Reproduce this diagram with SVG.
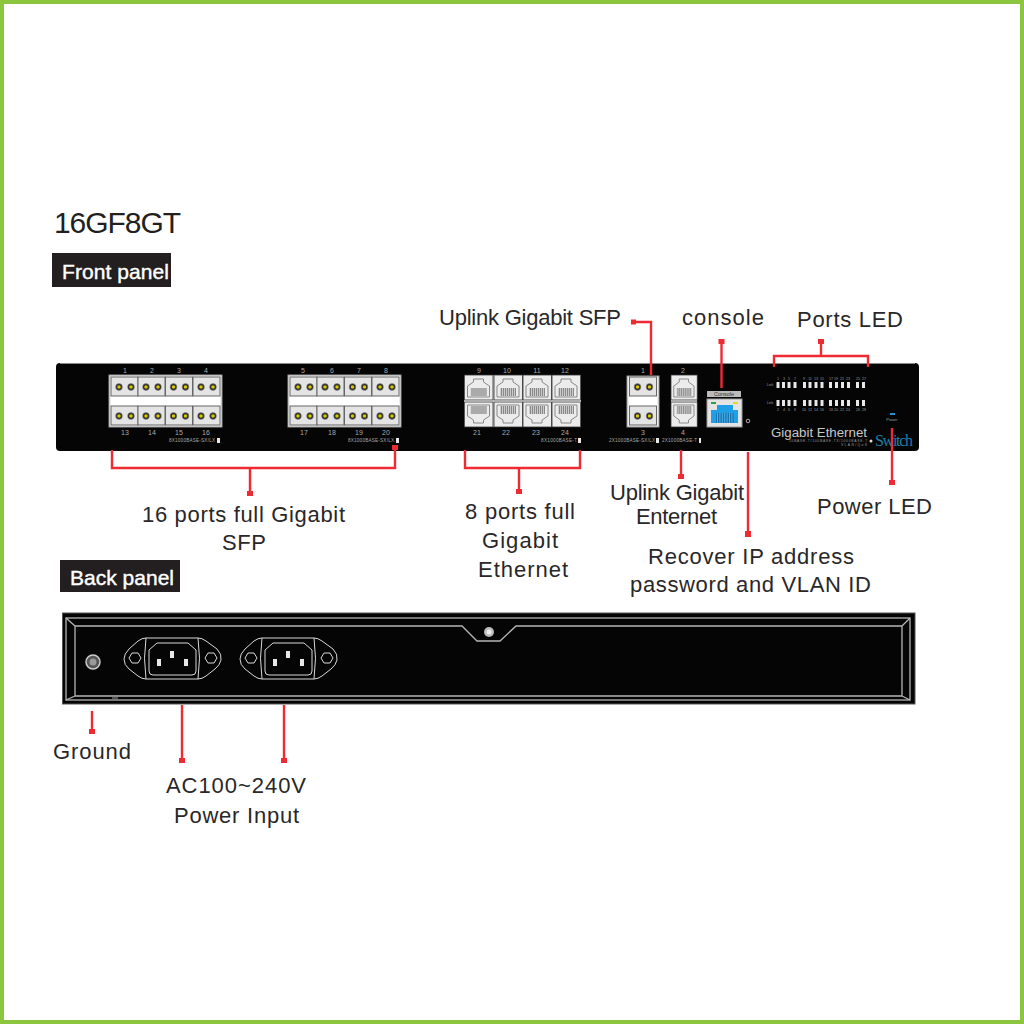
<svg xmlns="http://www.w3.org/2000/svg" width="1024" height="1024" viewBox="0 0 1024 1024">
<style>
text{font-family:"Liberation Sans",Arial,sans-serif}
.lbl{font-size:22px;fill:#2a2728;text-anchor:middle}
.n{font-size:7px;fill:#a8a8a8;text-anchor:middle}
.t{font-size:4.6px;fill:#a8a8a8}
.led{font-size:3.6px;fill:#9a9a9a;text-anchor:middle}
.wire{fill:none;stroke:#ee2a33;stroke-width:2.400}
.end{fill:#ee2a33}
.cell{fill:#e4e4e4;stroke:#666;stroke-width:1}
.frame{fill:#eee;stroke:#999;stroke-width:1}
.rj{fill:#ececec;stroke:#888;stroke-width:1}
.back{fill:none;stroke:#b5b5b5;stroke-width:1.300}
.inlet{fill:none;stroke:#d8d8d8;stroke-width:1}
.bar{fill:#e8e8e8}
</style>
<defs>
<g id="duplex"><rect class="cell" width="27" height="19"/><circle cx="8" cy="10" r="3.400" fill="#222" stroke="#999" stroke-width=".6"/><circle cx="8" cy="10" r="1.800" fill="#d8c800"/><circle cx="20" cy="10" r="3.400" fill="#222" stroke="#999" stroke-width=".6"/><circle cx="20" cy="10" r="1.800" fill="#d8c800"/></g>
<g id="rj45"><rect width="28.500" height="25" fill="#ececec" stroke="#333" stroke-width=".8"/><path class="rj" d="M3 22V11L9 7V4H19V7L25 11V22Z"/><rect x="6" y="13" width="16" height="8" fill="#ccc"/><path d="M7 17H22" stroke="#888" stroke-width="8" stroke-dasharray="1 1"/></g>
<g id="inlet" class="inlet">
<path d="M22 0H74Q78 0 82 3L93 11Q98 16 97 22Q96 27 91 31L82 38Q78 41 74 41H22Q18 41 14 38L5 31Q0 27 0 21Q0 16 5 11L14 3Q18 0 22 0Z"/>
<path d="M22 0Q19 20 22 41M74 0Q77 20 74 41"/>
<path d="M33 5H64L72 12V33Q72 37 68 37H29Q25 37 25 33V12Z"/>
<path d="M5 20L8 15H14L17 20L14 25H8Z M81 20L84 15H90L93 20L90 25H84Z"/>
<rect x="33" y="21" width="4" height="7" fill="#e8e8e8" stroke="none"/><rect x="46" y="13" width="4" height="7" fill="#e8e8e8" stroke="none"/><rect x="60" y="21" width="4" height="7" fill="#e8e8e8" stroke="none"/>
</g>
</defs>
<rect width="1024" height="1024" fill="#fff"/>
<rect x="2" y="2" width="1020" height="1020" fill="none" stroke="#8cc63f" stroke-width="4"/>

<g id="title"><text x="54" y="233" font-size="30" fill="#231f20" textLength="127">16GF8GT</text></g>
<g id="front-tag"><rect x="52" y="253" width="119" height="34" fill="#231f20"/><text x="62" y="279" font-size="21" fill="#fff" stroke="#fff" stroke-width=".4" textLength="107">Front panel</text></g>
<g id="back-tag"><rect x="60" y="560" width="120" height="32" fill="#231f20"/><text x="70" y="585" font-size="21" fill="#fff" stroke="#fff" stroke-width=".4" textLength="104">Back panel</text></g>

<g id="front-panel">
<rect x="56" y="363" width="863" height="88" rx="4" fill="#050505"/>
<path d="M60 363.500H915" stroke="#888" stroke-width="1"/>
</g>

<g id="sfp-block-1">
<rect class="frame" x="109" y="375" width="113" height="52"/><rect x="111" y="396" width="109" height="10" fill="#fff"/>
<use href="#duplex" x="111" y="377"/><use href="#duplex" x="138" y="377"/><use href="#duplex" x="165.500" y="377"/><use href="#duplex" x="193" y="377"/>
<use href="#duplex" x="111" y="406"/><use href="#duplex" x="138" y="406"/><use href="#duplex" x="165.500" y="406"/><use href="#duplex" x="193" y="406"/>
<text class="n" x="125" y="373">1</text><text class="n" x="152" y="373">2</text><text class="n" x="179" y="373">3</text><text class="n" x="206" y="373">4</text>
<text class="n" x="125" y="435">13</text><text class="n" x="152" y="435">14</text><text class="n" x="179" y="435">15</text><text class="n" x="206" y="435">16</text>
<text class="t" x="169" y="442" textLength="46">8X1000BASE-SX/LX</text><rect class="bar" x="217" y="438" width="3" height="5"/>
</g>
<g id="sfp-block-2">
<rect class="frame" x="288" y="375" width="113" height="52"/><rect x="290" y="396" width="109" height="10" fill="#fff"/>
<use href="#duplex" x="290" y="377"/><use href="#duplex" x="317" y="377"/><use href="#duplex" x="344.500" y="377"/><use href="#duplex" x="372" y="377"/>
<use href="#duplex" x="290" y="406"/><use href="#duplex" x="317" y="406"/><use href="#duplex" x="344.500" y="406"/><use href="#duplex" x="372" y="406"/>
<text class="n" x="303" y="373">5</text><text class="n" x="332" y="373">6</text><text class="n" x="359" y="373">7</text><text class="n" x="386" y="373">8</text>
<text class="n" x="304" y="435">17</text><text class="n" x="332" y="435">18</text><text class="n" x="359" y="435">19</text><text class="n" x="386" y="435">20</text>
<text class="t" x="348" y="442" textLength="46">8X1000BASE-SX/LX</text><rect class="bar" x="396" y="438" width="3" height="5"/>
</g>
<g id="rj45-block">
<rect x="464" y="375" width="117" height="52" fill="#fff"/>
<use href="#rj45" x="464.500" y="375"/><use href="#rj45" x="494" y="375"/><use href="#rj45" x="523" y="375"/><use href="#rj45" x="552" y="375"/>
<use href="#rj45" transform="translate(464.500 427) scale(1 -1)"/><use href="#rj45" transform="translate(494 427) scale(1 -1)"/><use href="#rj45" transform="translate(523 427) scale(1 -1)"/><use href="#rj45" transform="translate(552 427) scale(1 -1)"/>
<text class="n" x="479" y="373">9</text><text class="n" x="507" y="373">10</text><text class="n" x="537" y="373">11</text><text class="n" x="565" y="373">12</text>
<text class="n" x="477" y="435">21</text><text class="n" x="506" y="435">22</text><text class="n" x="536" y="435">23</text><text class="n" x="565" y="435">24</text>
<text class="t" x="541" y="442" textLength="36">8X1000BASE-T</text><rect class="bar" x="578" y="438" width="3" height="5"/>
</g>
<g id="uplink-sfp">
<rect class="frame" x="627" y="376" width="32" height="51"/><rect x="629" y="396" width="28" height="10" fill="#fff"/>
<use href="#duplex" x="629.500" y="377"/><use href="#duplex" x="629.500" y="406"/>
<text class="n" x="643" y="373">1</text><text class="n" x="643" y="435">3</text>
<text class="t" x="609" y="442" textLength="46">2X1000BASE-SX/LX</text><rect class="bar" x="656" y="438" width="3" height="5"/>
</g>
<g id="uplink-rj45">
<rect x="671" y="375" width="26" height="52" fill="#fff"/>
<use href="#rj45" transform="translate(671 375) scale(.92 1)"/><use href="#rj45" transform="translate(671 427) scale(.92 -1)"/>
<text class="n" x="683" y="373">2</text><text class="n" x="683" y="435">4</text>
<text class="t" x="662" y="442" textLength="35">2X1000BASE-T</text><rect class="bar" x="699" y="438" width="2" height="5"/>
</g>
<g id="console-port">
<rect x="707" y="391" width="34" height="6" fill="#bbb"/><text x="724" y="396" font-size="5.500" fill="#333" text-anchor="middle">Console</text>
<rect x="707" y="399" width="35" height="28" fill="#e4e4e4" stroke="#999" stroke-width="1"/>
<path d="M711 423V410H717V405H733V410H738V423Z" fill="#1f9fe6"/>
<rect x="716" y="413" width="18" height="10" fill="#1673b0"/><path d="M717 418H734" stroke="#49b5ec" stroke-width="10" stroke-dasharray="1 1.400"/>
<rect x="711" y="402" width="5" height="2" fill="#2f9e44"/><rect x="733" y="402" width="5" height="2" fill="#e6d52a"/>
<circle cx="748" cy="421" r="1.800" fill="none" stroke="#aaa" stroke-width="1"/>
</g>
<g id="port-leds">
<g class="bar"><rect x="776.500" y="382" width="3" height="6"/><rect x="782" y="382" width="3" height="6"/><rect x="787.500" y="382" width="3" height="6"/><rect x="793.500" y="382" width="3" height="6"/><rect x="803" y="382" width="3" height="6"/><rect x="808.500" y="382" width="3" height="6"/><rect x="814.500" y="382" width="3" height="6"/><rect x="820.500" y="382" width="3" height="6"/><rect x="829" y="382" width="3" height="6"/><rect x="835" y="382" width="3" height="6"/><rect x="841" y="382" width="3" height="6"/><rect x="847" y="382" width="3" height="6"/><rect x="856" y="382" width="3" height="6"/><rect x="862" y="382" width="3" height="6"/>
<rect x="776.500" y="400" width="3" height="6"/><rect x="782" y="400" width="3" height="6"/><rect x="787.500" y="400" width="3" height="6"/><rect x="793.500" y="400" width="3" height="6"/><rect x="803" y="400" width="3" height="6"/><rect x="808.500" y="400" width="3" height="6"/><rect x="814.500" y="400" width="3" height="6"/><rect x="820.500" y="400" width="3" height="6"/><rect x="829" y="400" width="3" height="6"/><rect x="835" y="400" width="3" height="6"/><rect x="841" y="400" width="3" height="6"/><rect x="847" y="400" width="3" height="6"/><rect x="856" y="400" width="3" height="6"/><rect x="862" y="400" width="3" height="6"/></g>
<text class="led" x="770" y="386">Link</text><text class="led" x="770" y="404">Link</text>
<text class="led" x="778" y="380">1</text><text class="led" x="784" y="380">3</text><text class="led" x="789" y="380">5</text><text class="led" x="795" y="380">7</text><text class="led" x="804" y="380">9</text><text class="led" x="810" y="380">11</text><text class="led" x="816" y="380">13</text><text class="led" x="822" y="380">15</text><text class="led" x="831" y="380">17</text><text class="led" x="836" y="380">19</text><text class="led" x="842" y="380">21</text><text class="led" x="848" y="380">23</text><text class="led" x="858" y="380">25</text><text class="led" x="864" y="380">27</text>
<text class="led" x="778" y="411">2</text><text class="led" x="784" y="411">4</text><text class="led" x="789" y="411">6</text><text class="led" x="795" y="411">8</text><text class="led" x="804" y="411">10</text><text class="led" x="810" y="411">12</text><text class="led" x="816" y="411">14</text><text class="led" x="822" y="411">16</text><text class="led" x="831" y="411">18</text><text class="led" x="836" y="411">20</text><text class="led" x="842" y="411">22</text><text class="led" x="848" y="411">24</text><text class="led" x="858" y="411">26</text><text class="led" x="864" y="411">28</text>
</g>
<g id="power-led"><rect x="890" y="413" width="5" height="2" fill="#2a8fd0"/><text class="led" x="892" y="421" style="font-size:4px">Power</text></g>
<g id="branding">
<text x="771" y="437" font-size="12" fill="#c8c8c8" textLength="96" lengthAdjust="spacingAndGlyphs">Gigabit Ethernet</text>
<text x="789" y="441.500" font-size="3.400" fill="#999" textLength="78">10BASE-T/100BASE-TX/1000BASE-T</text>
<text x="841" y="446" font-size="3.400" fill="#999" textLength="26">VLAN/QoS</text>
<circle cx="871" cy="441" r="1.500" fill="#ddd"/>
<text x="875" y="446" style="font-family:'Liberation Serif',serif" font-size="16" fill="#1b7fa8" textLength="38">Switch</text>
</g>

<g id="back-panel">
<rect x="62.500" y="613" width="852.500" height="91" fill="#050505" stroke="#555" stroke-width="1"/>
<rect class="back" x="66" y="618" width="844" height="82"/>
<path class="back" d="M75 626H462L477 641H500L516 626H902V696H75Z M66 618L75 626 M910 618L902 626 M66 700L75 696 M910 700L902 696"/>
<path d="M112 698H118" stroke="#999"/>
</g>
<g id="notch-screw"><circle cx="489" cy="632" r="5" fill="#bbb"/><circle cx="489" cy="632" r="2.500" fill="#eee"/></g>
<g id="ground-screw"><circle cx="93" cy="662" r="7" fill="#555" stroke="#ccc" stroke-width="1.500"/><circle cx="93" cy="662" r="3.500" fill="#999"/></g>
<g id="ac-inlet-1"><use href="#inlet" x="124" y="638"/></g>
<g id="ac-inlet-2"><use href="#inlet" x="240" y="638"/></g>

<g id="connectors">
<path class="wire" d="M112 450V468H395V450M250 468V494"/><rect class="end" x="392" y="445" width="6" height="5"/><rect class="end" x="247" y="491" width="6" height="5"/>
<path class="wire" d="M465 450V468H580V450M519 468V492"/><rect class="end" x="516" y="489" width="6" height="5"/>
<path class="wire" d="M631 322H651V375"/><rect class="end" x="631" y="319.500" width="5" height="5"/>
<path class="wire" d="M721.500 341V388"/><rect class="end" x="718.500" y="339" width="6" height="5"/>
<path class="wire" d="M774 367V356H868V367M821 341V356"/><rect class="end" x="818" y="339" width="6" height="5"/>
<path class="wire" d="M681 450V477"/><rect class="end" x="678" y="474" width="6" height="5"/>
<path class="wire" d="M748 452V534"/><rect class="end" x="745" y="531" width="6" height="6"/>
<path class="wire" d="M892 428V483"/><rect class="end" x="889" y="480" width="6" height="5"/>
<path class="wire" d="M92 711V732"/><rect class="end" x="89" y="729" width="6" height="5"/>
<path class="wire" d="M182 705V761"/><rect class="end" x="179" y="758" width="6" height="5"/>
<path class="wire" d="M284 705V761"/><rect class="end" x="281" y="758" width="6" height="5"/>
</g>

<g id="labels">
<text class="lbl" x="530" y="325" textLength="182">Uplink Gigabit SFP</text>
<text class="lbl" x="723" y="325" textLength="82">console</text>
<text class="lbl" x="850" y="327" textLength="106">Ports LED</text>
<text class="lbl" x="243.500" y="522" textLength="203">16 ports full Gigabit</text>
<text class="lbl" x="244" y="550" textLength="44">SFP</text>
<text class="lbl" x="520" y="519" textLength="110">8 ports full</text>
<text class="lbl" x="520" y="548" textLength="76">Gigabit</text>
<text class="lbl" x="523" y="577" textLength="90">Ethernet</text>
<text class="lbl" x="677" y="500" textLength="134">Uplink Gigabit</text>
<text class="lbl" x="676.500" y="524" textLength="81">Enternet</text>
<text class="lbl" x="751" y="564" textLength="206">Recover IP address</text>
<text class="lbl" x="750.500" y="592" textLength="241">password and VLAN ID</text>
<text class="lbl" x="874.500" y="514" textLength="115">Power LED</text>
<text class="lbl" x="92" y="759" textLength="78">Ground</text>
<text class="lbl" x="236" y="793" textLength="140">AC100~240V</text>
<text class="lbl" x="236.500" y="823" textLength="125">Power Input</text>
</g>
</svg>
